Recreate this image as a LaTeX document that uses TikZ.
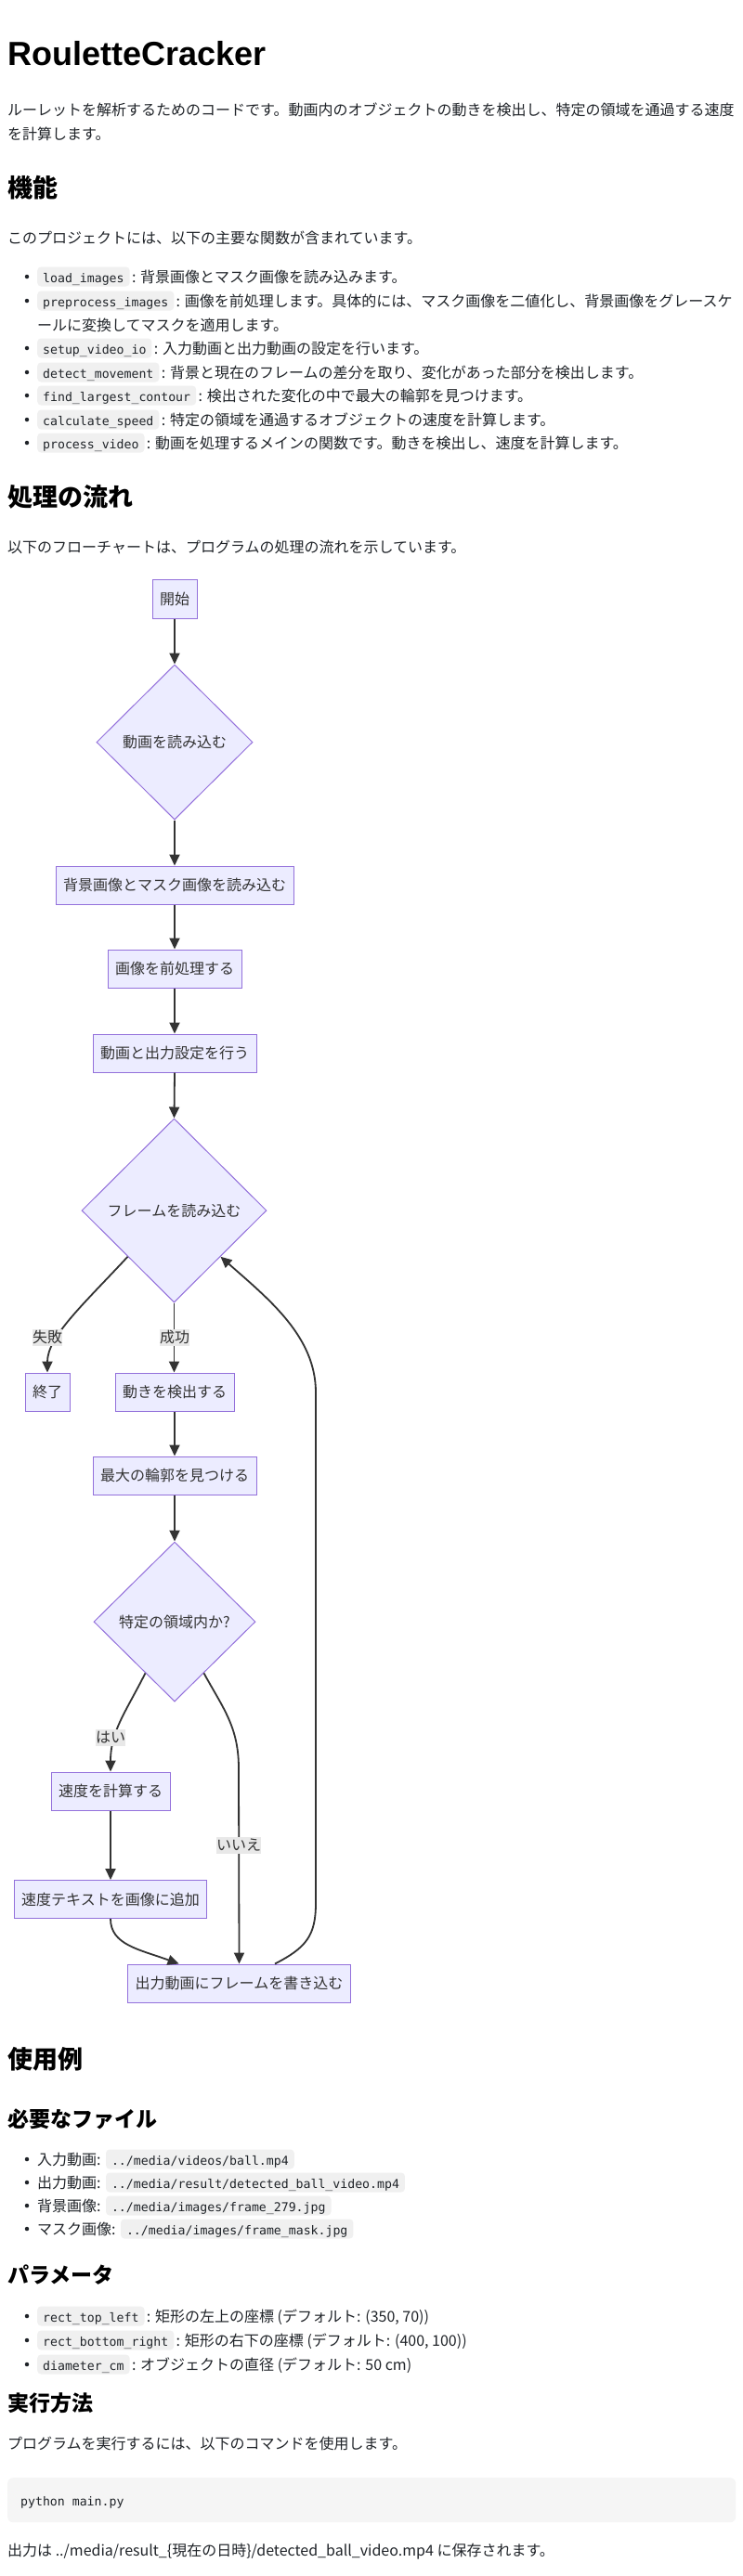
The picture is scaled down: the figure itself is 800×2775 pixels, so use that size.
\documentclass[tikz,border=0pt]{standalone}
\usepackage{fontspec}
\newfontfamily\jp{Noto Sans CJK JP}
\newfontfamily\lat{Liberation Sans}
\newfontfamily\mono{DejaVu Sans Mono}
\usetikzlibrary{shapes.geometric,arrows.meta,calc}
\definecolor{nodefill}{HTML}{ECECFF}
\definecolor{nodeline}{HTML}{9370DB}
\definecolor{edgec}{HTML}{333333}
\definecolor{lblbg}{HTML}{E8E8E8}
\definecolor{codebg}{HTML}{F0F0F0}
\definecolor{blockbg}{HTML}{F5F5F5}
\definecolor{ink}{HTML}{1F2328}
\tikzset{
  titlet/.style={anchor=base west, inner sep=0pt, font=\lat\bfseries\fontsize{36}{36}\selectfont, text=black},
  body/.style={anchor=base west, inner sep=0pt, font=\jp\fontsize{16}{16}\selectfont, text=ink},
  htwo/.style={anchor=base west, inner sep=0pt, font=\jp\bfseries\fontsize{27}{27}\selectfont, text=black},
  hthree/.style={anchor=base west, inner sep=0pt, font=\jp\bfseries\fontsize{23}{23}\selectfont, text=black},
  codeb/.style={anchor=base west, fill=codebg, rounded corners=4pt, inner xsep=6pt, inner ysep=3pt, text height=13.5pt, text depth=1.5pt, font=\mono\fontsize{13.2}{13.2}\selectfont, text=ink},
  codeplain/.style={anchor=base west, inner sep=0pt, font=\mono\fontsize{13.2}{13.2}\selectfont, text=ink},
  codeblock/.style={anchor=north west, fill=blockbg, rounded corners=6pt, inner sep=0pt},
  bdot/.style={circle, fill=ink, inner sep=0pt, minimum size=4.5pt},
  box/.style={draw=nodeline, fill=nodefill, line width=1pt, inner xsep=8pt, inner ysep=0pt, minimum height=41pt, text height=13.5pt, text depth=1.5pt, font=\jp\fontsize{16}{16}\selectfont, text=edgec},
  dec/.style={diamond, draw=nodeline, fill=nodefill, line width=1pt, inner sep=0pt, text height=13.5pt, text depth=1.5pt, font=\jp\fontsize{16}{16}\selectfont, text=edgec},
  flow/.style={draw=edgec, line width=1.8pt, -{Triangle[length=12pt,width=11pt]}},
  lbl/.style={fill=lblbg, inner xsep=0pt, inner ysep=1pt, text height=13pt, text depth=3pt, font=\jp\fontsize{16}{16}\selectfont, text=edgec},
}
\begin{document}
\begin{tikzpicture}[x=1pt,y=-1pt]
\useasboundingbox (0,0) rectangle (800,2775);
\fill[white] (0,0) rectangle (800,2775);

% ---------- header ----------
\node[titlet] (title) at (8,71) {RouletteCracker};
\node[body] (p1) at (8,125) {ルーレットを解析するためのコードです。動画内のオブジェクトの動きを検出し、特定の領域を通過する速度};
\node[body] (p2) at (8,151) {を計算します。};
\node[htwo] (h1) at (8,212) {機能};
\node[body] (p3) at (8,262) {このプロジェクトには、以下の主要な関数が含まれています。};

% ---------- function list ----------
\node[bdot] (b1) at (29,298) {};
\node[codeb] (c1) at (40,304) {load\_images};
\node[body] (x1) at ([xshift=2pt]c1.base east) {: 背景画像とマスク画像を読み込みます。};
\node[bdot] (b2) at (29,324) {};
\node[codeb] (c2) at (40,330) {preprocess\_images};
\node[body] (x2) at ([xshift=2pt]c2.base east) {: 画像を前処理します。具体的には、マスク画像を二値化し、背景画像をグレースケ};
\node[body] (x2b) at (40,356) {ールに変換してマスクを適用します。};
\node[bdot] (b3) at (29,375) {};
\node[codeb] (c3) at (40,381) {setup\_video\_io};
\node[body] (x3) at ([xshift=2pt]c3.base east) {: 入力動画と出力動画の設定を行います。};
\node[bdot] (b4) at (29,401) {};
\node[codeb] (c4) at (40,407) {detect\_movement};
\node[body] (x4) at ([xshift=2pt]c4.base east) {: 背景と現在のフレームの差分を取り、変化があった部分を検出します。};
\node[bdot] (b5) at (29,426) {};
\node[codeb] (c5) at (40,432) {find\_largest\_contour};
\node[body] (x5) at ([xshift=2pt]c5.base east) {: 検出された変化の中で最大の輪郭を見つけます。};
\node[bdot] (b6) at (29,452) {};
\node[codeb] (c6) at (40,458) {calculate\_speed};
\node[body] (x6) at ([xshift=2pt]c6.base east) {: 特定の領域を通過するオブジェクトの速度を計算します。};
\node[bdot] (b7) at (29,477) {};
\node[codeb] (c7) at (40,483) {process\_video};
\node[body] (x7) at ([xshift=2pt]c7.base east) {: 動画を処理するメインの関数です。動きを検出し、速度を計算します。};

\node[htwo] (h2) at (8,545) {処理の流れ};
\node[body] (p4) at (8,595) {以下のフローチャートは、プログラムの処理の流れを示しています。};

% ---------- flowchart nodes ----------
\node[box, minimum height=42pt] (start) at (188,645) {開始};
\node[dec, minimum width=168pt, minimum height=167pt] (read) at (188,799.5) {動画を読み込む};
\node[box] (load) at (188,953.5) {背景画像とマスク画像を読み込む};
\node[box] (pre) at (188,1043.5) {画像を前処理する};
\node[box] (setup) at (188,1134.5) {動画と出力設定を行う};
\node[dec, minimum width=199pt, minimum height=198pt] (frame) at (187.5,1304) {フレームを読み込む};
\node[box] (fin) at (51,1499.5) {終了};
\node[box] (detect) at (188,1499.5) {動きを検出する};
\node[box] (maxc) at (188,1589.5) {最大の輪郭を見つける};
\node[dec, minimum width=174pt, minimum height=172pt] (area) at (188,1747) {特定の領域内か?};
\node[box] (speed) at (119,1929.5) {速度を計算する};
\node[box] (addtxt) at (119,2046) {速度テキストを画像に追加};
\node[box] (write) at (257.5,2136.5) {出力動画にフレームを書き込む};

% ---------- flowchart edges ----------
\draw[flow] (start.south) -- (read.north);
\draw[flow] (read.south) -- (load.north);
\draw[flow] (load.south) -- (pre.north);
\draw[flow] (pre.south) -- (setup.north);
\draw[flow] (setup.south) -- (frame.north);
\draw[flow] (frame.south west) .. controls (90,1405) and (51,1440) .. (fin.north);
\draw[flow] (frame.south) -- (frame.south |- detect.north);
\draw[flow] (detect.south) -- (maxc.north);
\draw[flow] (maxc.south) -- (area.north);
\draw[flow] ($(area.west)!0.64!(area.south)$) .. controls (135,1845) and (119,1865) .. (speed.north);
\draw[flow] ($(area.south)!0.36!(area.east)$) .. controls (240,1840) and (257,1860) .. (257,1905) -- (write.north);
\draw[flow] (speed.south) -- (addtxt.north);
\draw[flow] (addtxt.south) .. controls (119,2095) and (150,2100) .. ($(write.north west)!0.23!(write.north east)$);
\draw[flow] ($(write.north west)!0.66!(write.north east)$) .. controls (330,2098) and (340,2085) .. (340,2050) -- (340,1500) .. controls (340,1440) and (290,1400) .. (frame.south east);

\node[lbl] (lfail) at (51,1441) {失敗};
\node[lbl] (lok) at (188,1441) {成功};
\node[lbl] (lyes) at (119,1872) {はい};
\node[lbl] (lno) at (257,1988) {いいえ};

% ---------- usage ----------
\node[htwo] (h3) at (8,2228) {使用例};
\node[hthree] (h4) at (8,2291) {必要なファイル};
\node[bdot] (fb1) at (29,2326) {};
\node[body] (f1) at (40,2332) {入力動画:};
\node[codeb] (fc1) at ([xshift=5pt]f1.base east) {../media/videos/ball.mp4};
\node[bdot] (fb2) at (29,2351) {};
\node[body] (f2) at (40,2357) {出力動画:};
\node[codeb] (fc2) at ([xshift=5pt]f2.base east) {../media/result/detected\_ball\_video.mp4};
\node[bdot] (fb3) at (29,2376) {};
\node[body] (f3) at (40,2382) {背景画像:};
\node[codeb] (fc3) at ([xshift=5pt]f3.base east) {../media/images/frame\_279.jpg};
\node[bdot] (fb4) at (29,2401) {};
\node[body] (f4) at (40,2407) {マスク画像:};
\node[codeb] (fc4) at ([xshift=5pt]f4.base east) {../media/images/frame\_mask.jpg};

\node[hthree] (h5) at (8,2459) {パラメータ};
\node[bdot] (pb1) at (29,2495) {};
\node[codeb] (pc1) at (40,2501) {rect\_top\_left};
\node[body] (px1) at ([xshift=2pt]pc1.base east) {: 矩形の左上の座標 (デフォルト: (350, 70))};
\node[bdot] (pb2) at (29,2521) {};
\node[codeb] (pc2) at (40,2527) {rect\_bottom\_right};
\node[body] (px2) at ([xshift=2pt]pc2.base east) {: 矩形の右下の座標 (デフォルト: (400, 100))};
\node[bdot] (pb3) at (29,2547) {};
\node[codeb] (pc3) at (40,2553) {diameter\_cm};
\node[body] (px3) at ([xshift=2pt]pc3.base east) {: オブジェクトの直径 (デフォルト: 50 cm)};

\node[hthree] (h6) at (8,2597) {実行方法};
\node[body] (p5) at (8,2638) {プログラムを実行するには、以下のコマンドを使用します。};
\node[codeblock, minimum width=784pt, minimum height=48pt] (blk) at (8,2669) {};
\node[codeplain] (cmd) at (22,2699) {python main.py};
\node[body] (p6) at (8,2753) {出力は ../media/result\_\{現在の日時\}/detected\_ball\_video.mp4 に保存されます。};
\end{tikzpicture}
\end{document}
